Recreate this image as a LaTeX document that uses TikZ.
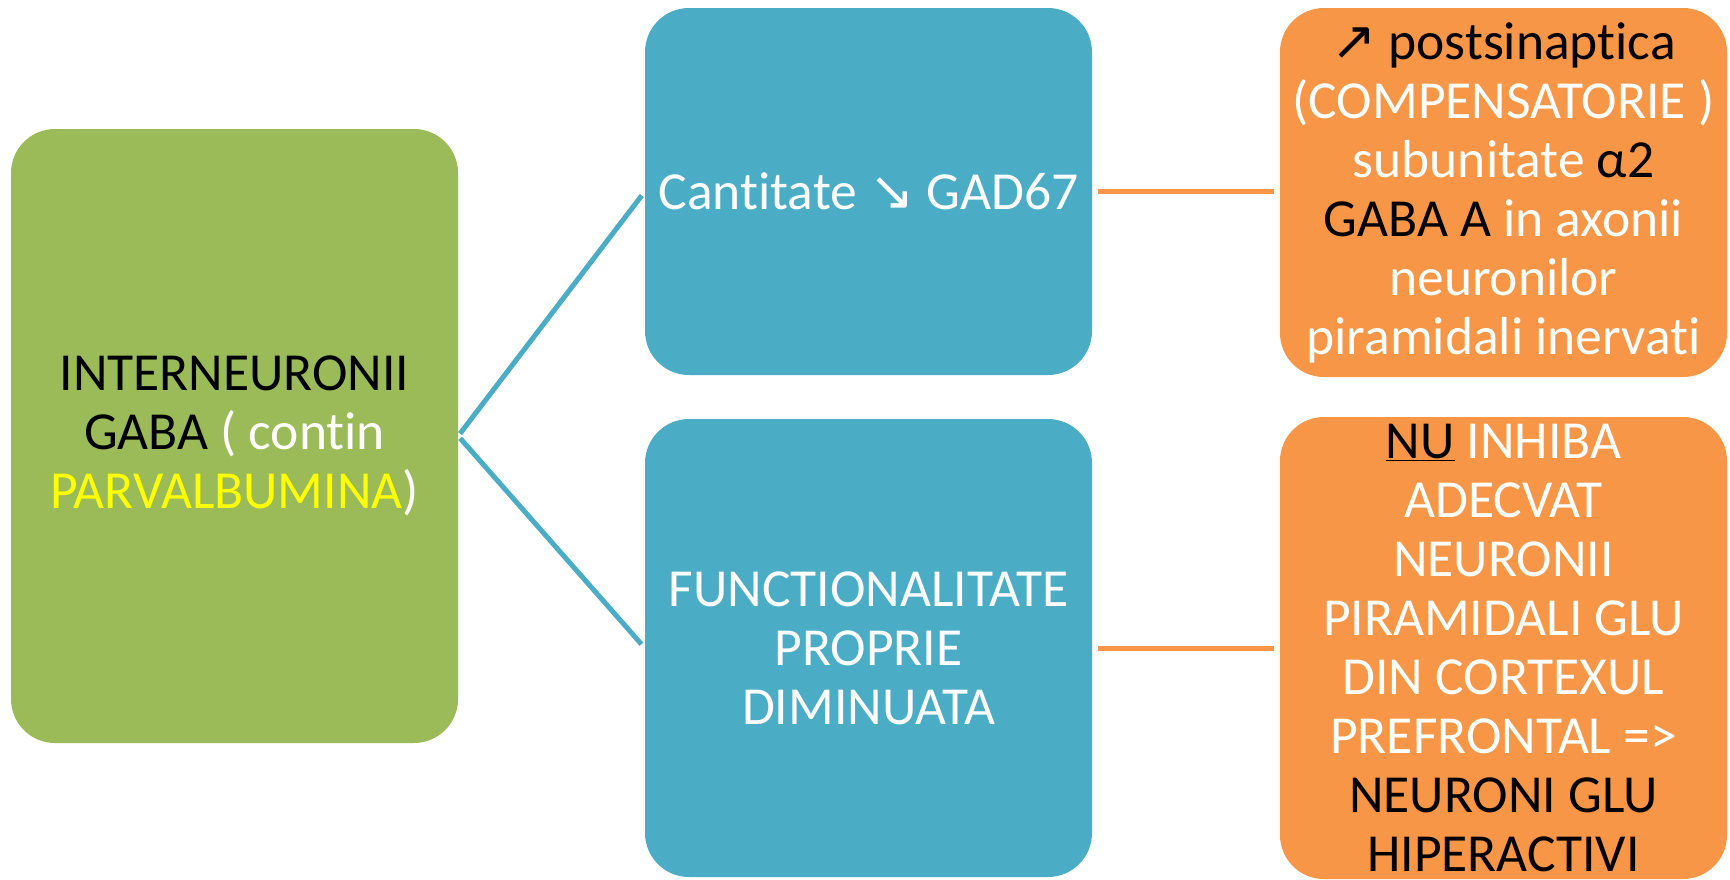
\documentclass[tikz,border=0pt]{standalone}
\usepackage{fontspec}
\setmainfont{Carlito}[Ligatures=NoCommon]
\newfontfamily\arrowfont{DejaVu Sans}
\usetikzlibrary{positioning,calc}
\definecolor{gabagreen}{HTML}{9BBB59}
\definecolor{gadblue}{HTML}{4BACC6}
\definecolor{effectorange}{HTML}{F79646}
\definecolor{parvyellow}{HTML}{FFFF00}

\begin{document}
\begin{tikzpicture}[
  x=1pt, y=-1pt,
  every node/.style={font=\fontsize{53.5}{59}\selectfont, align=center, inner sep=0pt},
  box/.style={rectangle, rounded corners=44pt, minimum width=447pt, text=white},
  srcbox/.style={box, fill=gabagreen, minimum height=614pt},
  midbox/.style={box, fill=gadblue},
  endbox/.style={box, fill=effectorange},
  branch/.style={draw=gadblue, line width=5pt, shorten <=3pt, shorten >=5pt},
  link/.style={draw=effectorange, line width=5pt, shorten <=6pt, shorten >=6pt}
]
\useasboundingbox (0,0) rectangle (1730,879);

\node[srcbox] (inter) at (234.5,436)
  {\color{black}INTERNEURONII\\ \color{black}GABA \color{white}( contin\\
   \color{parvyellow}PARVALBUMINA\color{white})};

\node[midbox, minimum height=367pt] (cant) at (868.5,191.5)
  {Cantitate {\arrowfont\fontsize{54}{59}\selectfont ↘} GAD67};
\node[midbox, minimum height=458pt] (func) at (868.5,648)
  {FUNCTIONALITATE\\ PROPRIE\\ DIMINUATA};

\node[endbox, minimum height=369pt] (post) at (1503.5,192.5)
  {\color{black}{\arrowfont\fontsize{54}{59}\selectfont ↗} postsinaptica\\
   (COMPENSATORIE )\\
   subunitate \color{black}α2\\
   \color{black}GABA A \color{white}in axonii\\
   neuronilor\\
   piramidali inervati};
\node[endbox, minimum height=462pt] (inhib) at (1503.5,648)
  {{\color{black}\underline{NU}} INHIBA\\
   ADECVAT\\
   NEURONII\\
   PIRAMIDALI GLU\\
   DIN CORTEXUL\\
   PREFRONTAL =>\\
   \color{black}NEURONI GLU\\
   \color{black}HIPERACTIVI};

% connectors
\draw[branch] (inter.east) -- (cant.west);
\draw[branch] (inter.east) -- (func.west);
\draw[link] (cant.east) -- (cant.east -| post.west);
\draw[link] (func.east) -- (func.east -| inhib.west);
\end{tikzpicture}
\end{document}
